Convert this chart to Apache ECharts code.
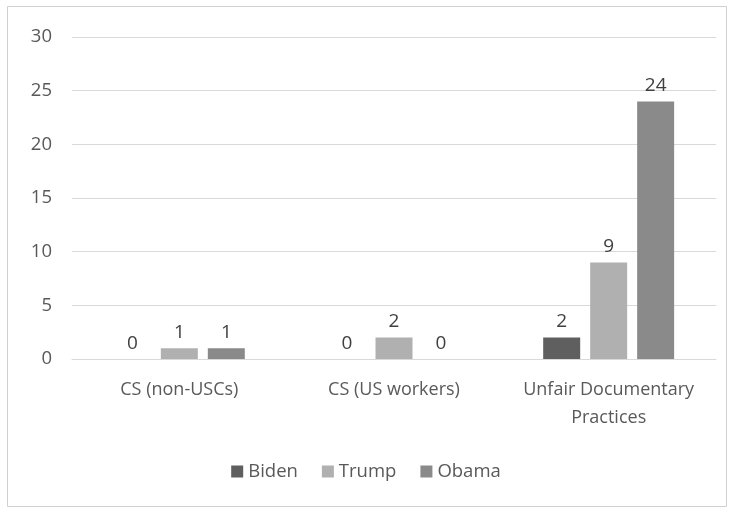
<!DOCTYPE html>
<html><head><meta charset="utf-8">
<script src="https://cdn.jsdelivr.net/npm/echarts@6/dist/echarts.min.js"></script>
<style>html,body{margin:0;padding:0;background:#fff}#c{width:732px;height:510px}</style>
</head><body><div id="c"></div>
<script>
const categories = ["CS (non-USCs)", "CS (US workers)", "Unfair Documentary\nPractices"];
const biden = [0, 0, 2];
const trump = [1, 2, 9];
const obama = [1, 0, 24];
const yTicks = [0, 5, 10, 15, 20, 25, 30];

const chart = echarts.init(document.getElementById('c'));
const font = "'Open Sans', 'Liberation Sans', sans-serif";
const lbl = {show: true, position: 'top', color: '#404040', fontSize: 19, fontFamily: font, distance: 6};
chart.setOption({
  animation: false,
  textStyle: {fontFamily: font},
  graphic: [{type: 'rect', shape: {x: 7.5, y: 6.5, width: 719, height: 500}, style: {fill: 'none', stroke: '#d0d0d0', lineWidth: 1}}],
  grid: {left: 72, right: 16, top: 37, bottom: 151},
  legend: {
    bottom: 24, left: 'center', itemWidth: 12, itemHeight: 12, itemGap: 24,
    icon: 'rect',
    textStyle: {color: '#595959', fontSize: 18.5, fontFamily: font},
    data: ['Biden', 'Trump', 'Obama']
  },
  xAxis: {
    type: 'category', data: categories,
    axisLine: {lineStyle: {color: '#d9d9d9'}},
    axisTick: {show: false},
    axisLabel: {interval: 0, hideOverlap: false, color: '#595959', fontSize: 18, fontFamily: font, margin: 17, lineHeight: 28}
  },
  yAxis: {
    type: 'value', min: yTicks[0], max: yTicks[yTicks.length - 1], interval: 5,
    axisLine: {show: false}, axisTick: {show: false},
    splitLine: {lineStyle: {color: '#d9d9d9'}},
    axisLabel: {color: '#595959', fontSize: 18.5, fontFamily: font, margin: 20}
  },
  series: [
    {name: 'Biden', type: 'bar', data: biden, itemStyle: {color: '#5f5f5f'}, label: lbl, barGap: '27%', barCategoryGap: '39%'},
    {name: 'Trump', type: 'bar', data: trump, itemStyle: {color: '#b0b0b0'}, label: lbl},
    {name: 'Obama', type: 'bar', data: obama, itemStyle: {color: '#8a8a8a'}, label: lbl}
  ]
});
</script></body></html>
